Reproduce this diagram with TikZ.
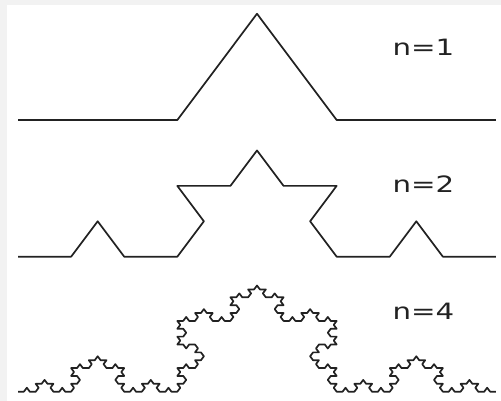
\documentclass[tikz,border=0pt]{standalone}
\usepackage{fontspec}
\setsansfont{DejaVu Sans}
\usetikzlibrary{lindenmayersystems}
\definecolor{Ink}{HTML}{222222}
\definecolor{Frame}{HTML}{F2F2F2}

\pgfdeclarelindenmayersystem{Koch}{\rule{F -> F+F--F+F}}

\begin{document}
\begin{tikzpicture}[
    x=1pt, y=1pt,
    curve/.style={draw=Ink, line width=1.7pt, line join=round},
    tag/.style={inner sep=0pt, text=Ink, font=\sffamily\fontsize{22.5}{24}\selectfont}
]

% frame and page
\fill[Frame] (0,0) rectangle (501,401);
\fill[white] (7,0) rectangle (501,396);
\useasboundingbox (0,0) rectangle (501,401);

% n=1
\begin{scope}[shift={(18,281)}, yscale=0.77]
\draw[curve, l-system={Koch, axiom=F, order=1, step=159.33pt, angle=60}] (0,0) l-system;
\end{scope}
\node[tag] (one) at (423.5,354) {\scalebox{1.3}[1]{n=1}};

% n=2
\begin{scope}[shift={(18,144.3)}, yscale=0.77]
\draw[curve, l-system={Koch, axiom=F, order=2, step=53.11pt, angle=60}] (0,0) l-system;
\end{scope}
\node[tag] (two) at (423.5,216.5) {\scalebox{1.3}[1]{n=2}};

% n=4
\begin{scope}[shift={(18,9.3)}, yscale=0.77]
\draw[curve, l-system={Koch, axiom=F, order=4, step=5.901pt, angle=60}] (0,0) l-system;
\end{scope}
\node[tag] (four) at (423.5,89.5) {\scalebox{1.3}[1]{n=4}};

\end{tikzpicture}
\end{document}
